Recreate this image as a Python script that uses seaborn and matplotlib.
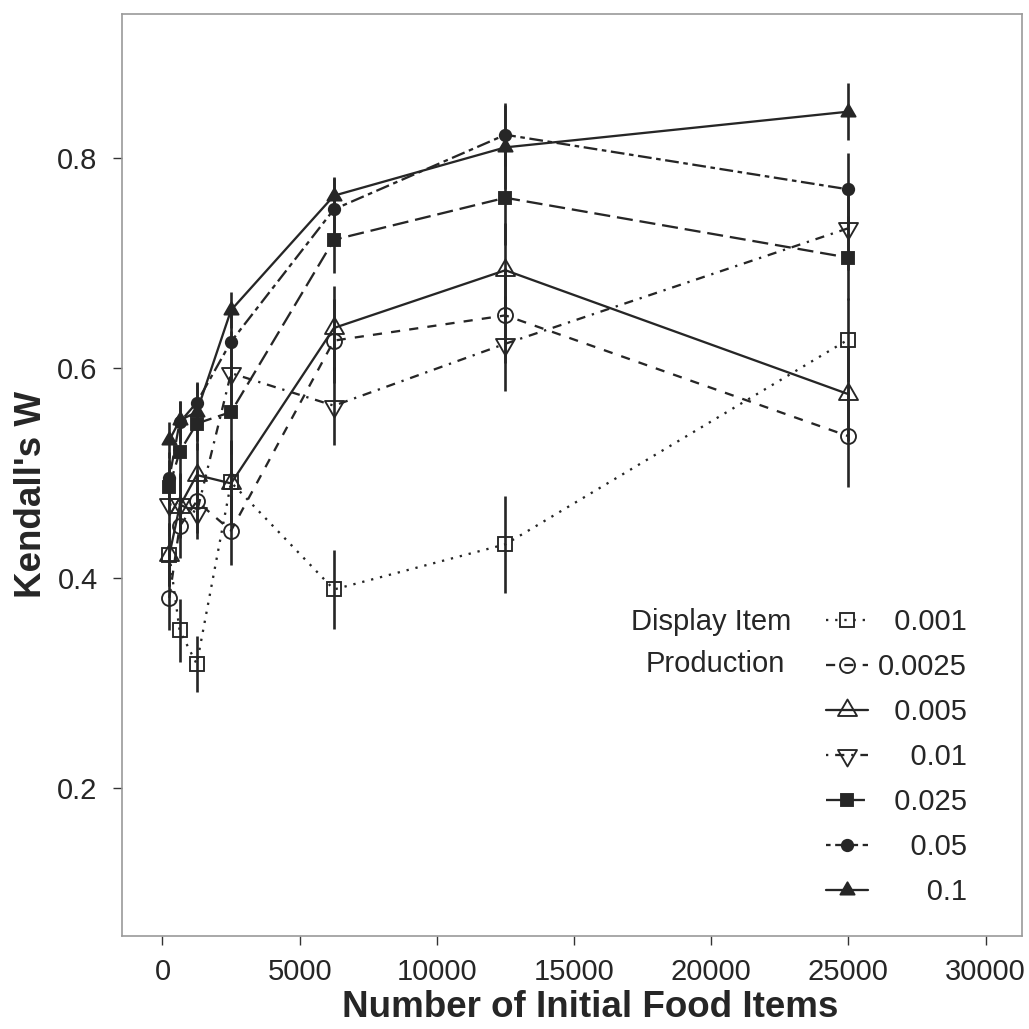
import matplotlib
matplotlib.use("Agg")
import matplotlib.pyplot as plt
from matplotlib.path import Path
import numpy as np
import pandas as pd
import seaborn as sns

# Number of initial food items (x positions shared by every series)
food_items = [250, 625, 1250, 2500, 6250, 12500, 25000]

# Display item production rates (legend entries)
rates = ["0.001", "0.0025", "0.005", "0.01", "0.025", "0.05", "0.1"]

# Mean Kendall's W per production rate
w_0001 = [0.422, 0.350, 0.318, 0.491, 0.389, 0.432, 0.627]
w_00025 = [0.381, 0.449, 0.473, 0.445, 0.626, 0.650, 0.535]
w_0005 = [0.422, 0.468, 0.498, 0.490, 0.638, 0.693, 0.575]
w_001 = [0.470, 0.470, 0.462, 0.595, 0.564, 0.623, 0.733]
w_0025 = [0.487, 0.520, 0.547, 0.558, 0.722, 0.762, 0.705]
w_005 = [0.495, 0.548, 0.567, 0.625, 0.751, 0.822, 0.770]
w_01 = [0.531, 0.550, 0.558, 0.655, 0.764, 0.810, 0.844]

# Half-widths of the error bars
e_0001 = [0.030, 0.030, 0.027, 0.040, 0.038, 0.046, 0.040]
e_00025 = [0.031, 0.030, 0.030, 0.033, 0.040, 0.045, 0.048]
e_0005 = [0.030, 0.030, 0.030, 0.040, 0.040, 0.045, 0.045]
e_001 = [0.030, 0.030, 0.025, 0.040, 0.037, 0.045, 0.040]
e_0025 = [0.025, 0.025, 0.025, 0.040, 0.032, 0.045, 0.040]
e_005 = [0.025, 0.020, 0.020, 0.035, 0.030, 0.030, 0.035]
e_01 = [0.017, 0.018, 0.028, 0.017, 0.018, 0.040, 0.027]

means = [w_0001, w_00025, w_0005, w_001, w_0025, w_005, w_01]
errors = [e_0001, e_00025, e_0005, e_001, e_0025, e_005, e_01]

frames = []
for rate, m, e in zip(rates, means, errors):
    frames.append(pd.DataFrame({"items": food_items, "W": m, "err": e, "rate": rate}))
df = pd.concat(frames, ignore_index=True)

sns.set_style("white")
plt.rcParams["font.family"] = ["Liberation Sans", "DejaVu Sans"]

INK = "#262626"
LW = 1.65


def triangle(up=True):
    """Closed triangle marker with its circumcentre at the origin."""
    s = 1.0 if up else -1.0
    verts = [(0.0, s * 1.0), (0.866, -s * 0.5), (-0.866, -s * 0.5), (0.0, 0.0)]
    codes = [Path.MOVETO, Path.LINETO, Path.LINETO, Path.CLOSEPOLY]
    return Path(verts, codes)


tri_up = triangle(True)
tri_dn = triangle(False)

styles = {
    "0.001": dict(marker="s", ms=10.0, mfc="none", ls=(0, (1, 3))),
    "0.0025": dict(marker="o", ms=10.8, mfc="none", ls=(0, (4, 4))),
    "0.005": dict(marker=tri_up, ms=15.8, mfc="none", ls="-"),
    "0.01": dict(marker=tri_dn, ms=15.8, mfc="none", ls=(0, (1, 3, 4, 3))),
    "0.025": dict(marker="s", ms=8.0, mfc=INK, ls=(0, (7, 3))),
    "0.05": dict(marker="o", ms=8.2, mfc=INK, ls=(0, (2, 2, 6, 2))),
    "0.1": dict(marker=tri_up, ms=11.8, mfc=INK, ls="-"),
}

fig = plt.figure(figsize=(10.29, 10.29), dpi=100)
ax = fig.add_axes([122 / 1029, 93 / 1029, 900 / 1029, 922 / 1029])

handles = []
for rate in rates:
    sub = df[df["rate"] == rate]
    st = styles[rate]
    ax.vlines(sub["items"], sub["W"] - sub["err"], sub["W"] + sub["err"],
              color=INK, lw=1.9, zorder=2)
    sns.lineplot(data=sub, x="items", y="W", ax=ax, color=INK, lw=LW,
                 linestyle=st["ls"], marker=st["marker"], markersize=st["ms"],
                 markerfacecolor=st["mfc"], markeredgecolor=INK,
                 markeredgewidth=1.35, legend=False, zorder=3)
    line = ax.get_lines()[-1]
    line.set_dash_capstyle("butt")
    handles.append(line)

ax.set_xlim(-1475, 31330)
ax.set_ylim(0.059, 0.937)
ax.set_xticks([0, 5000, 10000, 15000, 20000, 25000, 30000])
ax.set_yticks([0.2, 0.4, 0.6, 0.8])
ax.set_xticklabels(["0", "5000", "10000", "15000", "20000", "25000", "30000"])
ax.set_yticklabels(["0.2", "0.4", "0.6", "0.8"])
ax.tick_params(axis="both", direction="out", length=6.5, width=1.0,
               color="#333333", labelcolor=INK, labelsize=21,
               bottom=True, left=True, top=False, right=False)
ax.tick_params(axis="x", pad=9)
ax.tick_params(axis="y", pad=11)

for sp in ax.spines.values():
    sp.set_color("#9a9a9a")
    sp.set_linewidth(1.2)

ax.set_xlabel("Number of Initial Food Items", fontsize=26.5, fontweight="bold", color=INK)
ax.set_ylabel("Kendall's W", fontsize=26.5, fontweight="bold", color=INK)
ax.xaxis.set_label_coords((590 - 122) / 900, (936 - 990) / 922)
ax.yaxis.set_label_coords((49 - 122) / 900, (936 - 495) / 922)

# Legend: labels right-aligned with figure spaces
labels = [r.rjust(6, "\u2007") for r in rates]
leg = ax.legend(handles, labels, loc="center left",
                bbox_to_anchor=((826 - 122) / 900, (936 - 757) / 922),
                frameon=False, fontsize=21, handlelength=1.45,
                handletextpad=0.33, labelspacing=0.585, borderpad=0,
                borderaxespad=0)
for t in leg.get_texts():
    t.set_color(INK)

ax.text((711 - 122) / 900, (936 - 622) / 922, "Display Item", transform=ax.transAxes,
        ha="center", va="center", fontsize=21, color=INK)
ax.text((715 - 122) / 900, (936 - 664) / 922, "Production", transform=ax.transAxes,
        ha="center", va="center", fontsize=21, color=INK)

fig.savefig("out.png", dpi=100, facecolor="white")
